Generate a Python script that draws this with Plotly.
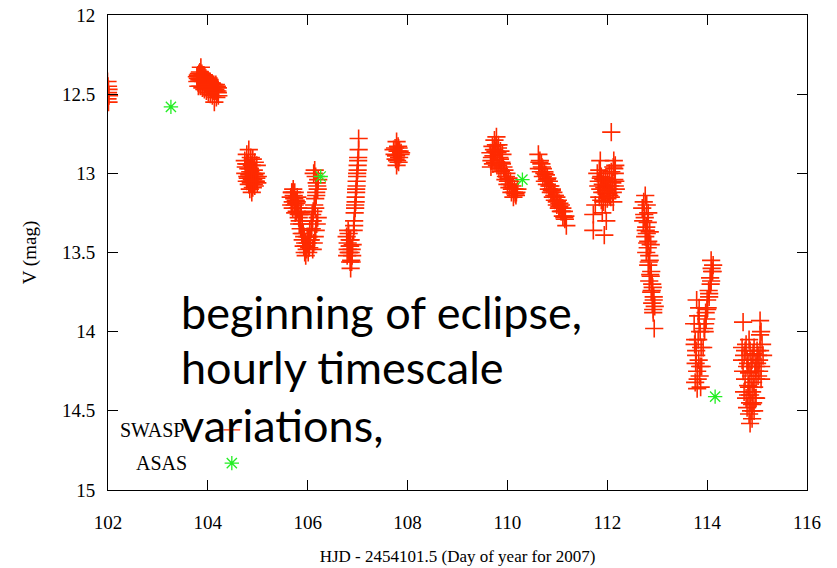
import plotly.graph_objects as go

# ---------------- data ----------------
# SWASP clusters (HJD - 2454101.5, V mag)
swasp_a_x = [101.99, 102.00, 102.01, 102.00, 102.02, 101.99, 102.01]
swasp_a_y = [12.42, 12.45, 12.47, 12.49, 12.51, 12.53, 12.55]

swasp_b_x = [103.78, 103.80, 103.82, 103.84, 103.86, 103.88, 103.90, 103.92, 103.94, 103.96, 103.98,
             104.00, 104.02, 104.04, 104.06, 104.08, 104.10, 104.12, 104.14, 104.16, 104.18, 104.20,
             103.79, 103.83, 103.87, 103.91, 103.95, 103.99, 104.03, 104.07, 104.11, 104.15, 104.19,
             103.81, 103.85, 103.89, 103.93, 103.97, 104.01, 104.05, 104.09, 104.13, 104.17, 104.21,
             103.80, 103.84, 103.88, 103.92, 103.96, 104.00, 104.04, 104.08, 104.12, 104.16, 104.20]
swasp_b_y = [12.39, 12.38, 12.37, 12.36, 12.33, 12.37, 12.38, 12.38, 12.39, 12.40, 12.41,
             12.41, 12.42, 12.42, 12.43, 12.43, 12.44, 12.44, 12.45, 12.44, 12.45, 12.46,
             12.42, 12.41, 12.41, 12.42, 12.43, 12.44, 12.45, 12.46, 12.46, 12.47, 12.48,
             12.45, 12.45, 12.46, 12.47, 12.48, 12.49, 12.50, 12.51, 12.55, 12.52, 12.51,
             12.40, 12.39, 12.40, 12.41, 12.43, 12.44, 12.45, 12.47, 12.48, 12.48, 12.49]

swasp_c_x = [104.74, 104.78, 104.82, 104.86, 104.90, 104.94, 104.98,
             104.76, 104.80, 104.84, 104.88, 104.92, 104.96, 105.00,
             104.75, 104.79, 104.83, 104.87, 104.91, 104.95, 104.99,
             104.78, 104.82, 104.86, 104.90, 104.94, 104.84, 104.88,
             104.77, 104.81, 104.85, 104.89, 104.93, 104.97,
             104.80, 104.84, 104.88, 104.92, 104.96]
swasp_c_y = [12.92, 12.88, 12.85, 12.90, 12.91, 12.93, 12.95,
             12.96, 12.94, 12.97, 12.95, 12.98, 13.00, 13.02,
             13.00, 13.02, 13.01, 13.03, 13.04, 13.05, 13.06,
             13.05, 13.07, 13.06, 13.09, 13.08, 13.10, 13.12,
             12.94, 12.97, 12.99, 13.00, 13.01, 13.03,
             13.03, 13.05, 13.04, 13.07, 13.05]

swasp_d_x = [105.66, 105.68, 105.70, 105.72, 105.74, 105.76, 105.78, 105.80, 105.82, 105.84,
             105.86, 105.88, 105.90, 105.92, 105.94, 105.96, 105.98, 106.00, 106.02, 106.04,
             105.67, 105.71, 105.75, 105.79, 105.83, 105.87, 105.91, 105.95, 105.99, 106.03,
             106.10, 106.12, 106.14, 106.16, 106.18, 106.20, 106.11, 106.13, 106.15, 106.17,
             106.19, 106.21, 106.12, 106.14, 106.16, 106.18, 106.20, 106.10, 106.15, 106.17,
             106.06, 106.08, 106.07, 106.09,
             105.69, 105.73, 105.77, 105.81, 105.85, 105.89, 105.93, 105.97, 106.01, 106.05,
             105.70, 105.74, 105.78, 105.82]
swasp_d_y = [13.15, 13.12, 13.18, 13.14, 13.20, 13.17, 13.24, 13.22, 13.28, 13.30,
             13.35, 13.38, 13.42, 13.46, 13.50, 13.52, 13.48, 13.44, 13.40, 13.36,
             13.20, 13.10, 13.25, 13.15, 13.32, 13.25, 13.38, 13.44, 13.40, 13.47,
             13.48, 13.44, 13.40, 13.36, 13.32, 13.28, 13.24, 13.20, 13.16, 13.12,
             13.08, 13.04, 13.00, 12.98, 13.02, 13.06, 13.10, 13.30, 13.22, 13.14,
             13.42, 13.35, 13.30, 13.26,
             13.12, 13.16, 13.19, 13.22, 13.26, 13.32, 13.40, 13.46, 13.50, 13.42,
             13.22, 13.12, 13.18, 13.26]

swasp_e_x = [106.78, 106.80, 106.82, 106.84, 106.86, 106.88, 106.90, 106.79, 106.83, 106.87,
             106.81, 106.85, 106.89, 106.86,
             106.92, 106.93, 106.94, 106.95, 106.96, 106.97, 106.98, 106.99, 107.00, 107.01,
             106.93, 106.95, 106.97, 106.99, 107.01, 107.02, 106.96, 106.98, 107.00, 107.02,
             106.80, 106.82, 106.84, 106.86, 106.88, 106.85]
swasp_e_y = [13.40, 13.44, 13.38, 13.46, 13.42, 13.48, 13.45, 13.52, 13.50, 13.55,
             13.36, 13.56, 13.52, 13.60,
             13.36, 13.30, 13.25, 13.20, 13.15, 13.10, 13.05, 13.00, 12.95, 12.90,
             13.33, 13.22, 13.12, 13.02, 12.92, 12.85, 13.18, 13.08, 12.98, 12.78,
             13.48, 13.50, 13.42, 13.50, 13.56, 13.46]

swasp_f_x = [107.72, 107.75, 107.78, 107.81, 107.84, 107.87, 107.74, 107.77, 107.80, 107.83,
             107.86, 107.79, 107.82, 107.78, 107.76, 107.82]
swasp_f_y = [12.85, 12.84, 12.80, 12.83, 12.86, 12.87, 12.88, 12.89, 12.86, 12.90,
             12.88, 12.92, 12.93, 12.95, 12.91, 12.84]

swasp_g_x = [109.66, 109.70, 109.74, 109.78, 109.82, 109.86, 109.90, 109.68, 109.72, 109.76,
             109.80, 109.84, 109.88, 109.92, 109.67, 109.71, 109.75, 109.79, 109.83, 109.87,
             109.94, 109.98, 110.02, 110.06, 110.10, 110.14, 110.18, 109.96, 110.00, 110.04,
             110.08, 110.12, 110.16, 110.20,
             109.69, 109.73, 109.77, 109.81, 109.85, 109.89, 109.97, 110.01, 110.05, 110.09,
             110.13, 110.17]
swasp_g_y = [12.87, 12.83, 12.79, 12.77, 12.82, 12.86, 12.88, 12.92, 12.89, 12.86,
             12.87, 12.90, 12.93, 12.96, 12.96, 12.94, 12.93, 12.95, 12.97, 12.99,
             12.98, 13.00, 13.03, 13.05, 13.08, 13.10, 13.12, 13.04, 13.07, 13.09,
             13.12, 13.15, 13.13, 13.10,
             12.90, 12.85, 12.82, 12.84, 12.91, 12.94, 13.02, 13.05, 13.07, 13.10,
             13.12, 13.14]

swasp_h_x = [110.62, 110.65, 110.68, 110.71, 110.74, 110.77, 110.80, 110.83, 110.86, 110.89,
             110.92, 110.95, 110.98, 111.01, 111.04, 111.07, 111.10, 111.13, 111.16,
             110.63, 110.67, 110.71, 110.75, 110.79, 110.83, 110.87, 110.91, 110.95, 110.99,
             111.03, 111.07, 111.11, 111.15, 111.18,
             110.64, 110.69, 110.74, 110.79, 110.84, 110.89, 110.94, 110.99, 111.04, 111.09,
             111.14]
swasp_h_y = [12.88, 12.92, 12.94, 12.97, 12.99, 13.01, 13.03, 13.05, 13.08, 13.10,
             13.12, 13.14, 13.15, 13.17, 13.19, 13.20, 13.22, 13.24, 13.27,
             12.97, 12.99, 13.02, 13.05, 13.07, 13.10, 13.12, 13.15, 13.17, 13.20,
             13.22, 13.24, 13.27, 13.29, 13.33,
             12.93, 12.96, 13.00, 13.04, 13.08, 13.11, 13.14, 13.18, 13.21, 13.24,
             13.28]

swasp_i_x = [111.80, 111.84, 111.88, 111.92, 111.96, 112.00, 112.04, 112.08, 112.12, 112.16,
             111.82, 111.86, 111.90, 111.94, 111.98, 112.02, 112.06, 112.10, 112.14,
             111.84, 111.88, 111.92, 111.96, 112.00, 112.04, 112.13, 112.15, 112.17, 112.12,
             112.08, 111.86, 111.72, 111.72, 111.94, 111.98, 111.76, 111.90,
             111.83, 111.87, 111.91, 111.95, 111.99, 112.03, 112.07, 112.11, 112.15, 112.14,
             112.16]
swasp_i_y = [13.00, 12.98, 13.02, 13.04, 13.03, 13.05, 13.00, 12.99, 12.96, 12.95,
             13.08, 13.10, 13.12, 13.09, 13.11, 13.13, 13.08, 13.06, 13.04,
             13.15, 13.17, 13.18, 13.20, 13.16, 13.14, 12.92, 13.00, 13.10, 13.18,
             12.74, 12.92, 13.26, 13.36, 13.39, 13.30, 13.20, 13.25,
             13.05, 13.03, 13.07, 13.12, 13.08, 13.10, 13.15, 13.12, 13.08, 12.97,
             13.05]

swasp_j_x = [112.70, 112.73, 112.76, 112.79, 112.82, 112.72, 112.75, 112.78, 112.81,
             112.76, 112.79, 112.82, 112.85, 112.78, 112.81, 112.84, 112.87,
             112.82, 112.85, 112.88, 112.84, 112.87, 112.90, 112.88, 112.91, 112.93,
             112.90, 112.93, 112.92, 112.95, 112.94,
             112.74, 112.77, 112.80, 112.83, 112.86, 112.89, 112.92]
swasp_j_y = [13.22, 13.18, 13.14, 13.20, 13.25, 13.30, 13.28, 13.34, 13.31,
             13.40, 13.38, 13.43, 13.37, 13.50, 13.47, 13.52, 13.45,
             13.58, 13.55, 13.62, 13.68, 13.65, 13.70, 13.75, 13.72, 13.78,
             13.82, 13.80, 13.86, 13.84, 13.98,
             13.26, 13.36, 13.44, 13.56, 13.64, 13.74, 13.88]

swasp_k_x = [113.74, 113.76, 113.78, 113.80, 113.82, 113.84, 113.86, 113.88, 113.77, 113.81,
             113.85, 113.89, 113.75, 113.79, 113.83, 113.87, 113.80,
             113.92, 113.95, 113.98, 114.01, 114.04, 114.07, 114.10, 113.94, 113.97,
             114.00, 114.03, 114.06, 114.09, 114.12, 114.08,
             113.78, 113.82, 113.86, 113.76, 113.84, 113.96, 114.00, 114.04, 114.08, 114.11]
swasp_k_y = [13.95, 14.05, 14.15, 14.25, 13.90, 13.85, 14.00, 14.10, 14.20, 14.30,
             14.28, 14.22, 14.08, 13.80, 14.18, 14.35, 14.36,
             14.10, 14.00, 13.92, 13.85, 13.78, 13.70, 13.62, 13.98, 13.88,
             13.80, 13.74, 13.66, 13.60, 13.58, 13.55,
             14.12, 14.05, 14.22, 14.32, 13.95, 13.95, 13.86, 13.76, 13.68, 13.62]

swasp_l_x = [114.70, 114.74, 114.78, 114.82, 114.86, 114.90, 114.94, 114.98, 115.02, 115.06,
             115.10, 114.72, 114.76, 114.80, 114.84, 114.88, 114.92, 114.96, 115.00, 115.04,
             115.08, 114.74, 114.78, 114.82, 114.86, 114.90, 114.94, 114.98, 115.02, 115.06,
             114.80, 114.84, 114.88, 114.92, 114.96, 114.86, 114.90, 114.72, 115.06, 114.84,
             114.70, 115.12, 115.08,
             114.76, 114.80, 114.84, 114.88, 114.92, 114.96, 115.00, 115.04, 115.08, 114.82,
             114.86, 114.90, 114.94, 114.98]
swasp_l_y = [14.10, 14.15, 14.08, 14.20, 14.12, 14.18, 14.10, 14.22, 14.15, 14.12,
             14.08, 14.25, 14.30, 14.22, 14.35, 14.28, 14.32, 14.25, 14.20, 14.18,
             14.22, 14.38, 14.42, 14.40, 14.45, 14.38, 14.35, 14.30, 14.28, 14.02,
             14.48, 14.52, 14.50, 14.45, 14.42, 14.58, 14.55, 13.94, 13.93, 14.05,
             14.18, 14.15, 14.00,
             14.12, 14.18, 14.26, 14.22, 14.14, 14.20, 14.12, 14.25, 14.30, 14.34,
             14.40, 14.46, 14.50, 14.42]

asas_x = [103.26, 106.26, 110.30, 114.16]
asas_y = [12.58, 13.02, 13.04, 14.41]

legend_x = [104.48]
legend_swasp_y = [14.62]
legend_asas_y = [14.83]

x_ticks = [102, 104, 106, 108, 110, 112, 114, 116]
y_ticks = [12, 12.5, 13, 13.5, 14, 14.5, 15]
y_tick_text = ["12", "12.5", "13", "13.5", "14", "14.5", "15"]

big_text_lines = ["beginning of eclipse,", "hourly timescale", "variations,"]

# ---------------- figure ----------------
swasp_x = (swasp_a_x + swasp_b_x + swasp_c_x + swasp_d_x + swasp_e_x + swasp_f_x +
           swasp_g_x + swasp_h_x + swasp_i_x + swasp_j_x + swasp_k_x + swasp_l_x)
swasp_y = (swasp_a_y + swasp_b_y + swasp_c_y + swasp_d_y + swasp_e_y + swasp_f_y +
           swasp_g_y + swasp_h_y + swasp_i_y + swasp_j_y + swasp_k_y + swasp_l_y)

RED = "#ff2a00"
GREEN = "#22ee22"

fig = go.Figure()
fig.add_trace(go.Scatter(
    x=swasp_x, y=swasp_y, mode="markers", name="SWASP",
    marker=dict(symbol="cross-thin", size=13, color=RED, line=dict(color=RED, width=1.6)),
))
fig.add_trace(go.Scatter(
    x=asas_x, y=asas_y, mode="markers", name="ASAS",
    marker=dict(symbol="asterisk-open", size=12, color=GREEN, line=dict(color=GREEN, width=1.3)),
))
fig.add_trace(go.Scatter(
    x=legend_x, y=legend_swasp_y, mode="markers",
    marker=dict(symbol="cross-thin", size=12, color=RED, line=dict(color=RED, width=1.4)),
))
fig.add_trace(go.Scatter(
    x=legend_x, y=legend_asas_y, mode="markers",
    marker=dict(symbol="asterisk-open", size=12, color=GREEN, line=dict(color=GREEN, width=1.3)),
))

serif = "Liberation Serif, Times New Roman, serif"
axis_common = dict(
    showline=True, linecolor="black", linewidth=1, mirror="ticks",
    ticks="inside", ticklen=10, tickcolor="black", tickwidth=1,
    showgrid=False, zeroline=False, automargin=False,
    tickfont=dict(family=serif, size=19, color="black"),
)

fig.update_layout(
    width=837, height=568,
    margin=dict(l=108, r=30, t=15, b=78),
    paper_bgcolor="white", plot_bgcolor="white",
    showlegend=False,
    xaxis=dict(range=[102, 116], tickvals=x_ticks, ticklabelstandoff=15,
               title=dict(text="HJD - 2454101.5 (Day of year for 2007)",
                          font=dict(family=serif, size=17, color="black"), standoff=18),
               **axis_common),
    yaxis=dict(range=[15, 12], tickvals=y_ticks, ticktext=y_tick_text, ticklabelstandoff=8,
               title=dict(text="V (mag)", font=dict(family=serif, size=19, color="black"), standoff=20),
               **axis_common),
)

# legend texts (gnuplot style: label then sample)
fig.add_annotation(x=(186 - 108) / 699, y=(490 - 430) / 475, xref="paper", yref="paper",
                   text="SWASP", showarrow=False, xanchor="right", yanchor="middle",
                   font=dict(family=serif, size=20, color="black"))
fig.add_annotation(x=(189 - 108) / 699, y=(490 - 463) / 475, xref="paper", yref="paper",
                   text="ASAS", showarrow=False, xanchor="right", yanchor="middle",
                   font=dict(family=serif, size=20, color="black"))

# overlaid big slide text
line_centers_px = [312, 367, 425]
for txt, py in zip(big_text_lines, line_centers_px):
    fig.add_annotation(x=(179 - 108) / 699, y=(490 - py) / 475, xref="paper", yref="paper",
                       text=txt, showarrow=False, xanchor="left", yanchor="middle",
                       font=dict(family="Lato, Noto Sans, sans-serif", size=45, color="black"))

fig.write_html("out.html")
